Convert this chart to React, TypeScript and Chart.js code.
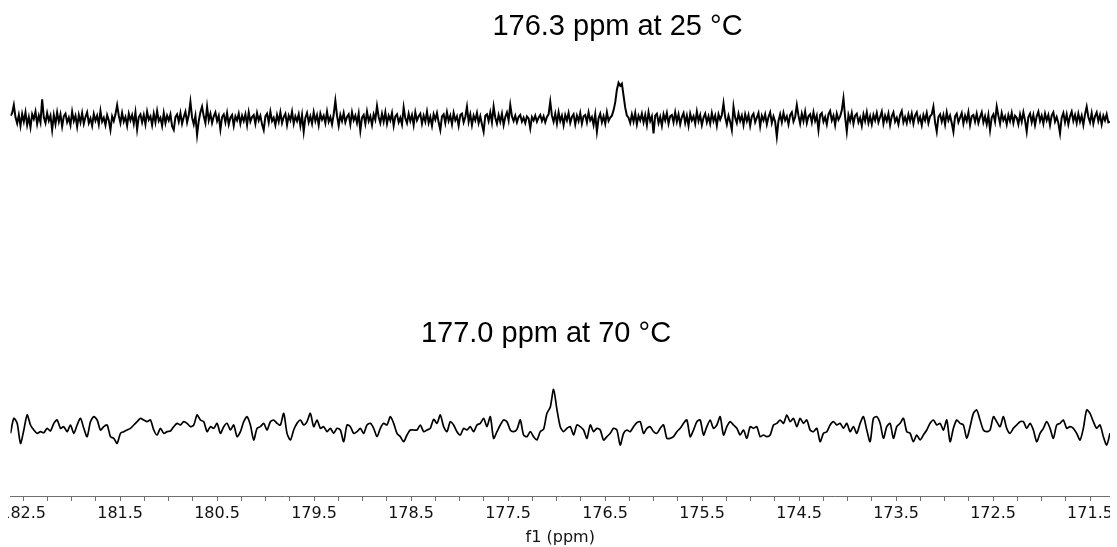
import React, { useEffect, useRef } from 'react';
import { Chart, registerables } from 'chart.js';

Chart.register(...registerables);

// x axis range (ppm), reversed as in NMR
const ppmStart = 182.63;
const ppmEnd = 171.294;

const tickLabels = ['182.5', '181.5', '180.5', '179.5', '178.5', '177.5', '176.5', '175.5', '174.5', '173.5', '172.5', '171.5'];
const axisTitle = 'f1 (ppm)';

const trace25Label = '176.3 ppm at 25 °C';
const trace70Label = '177.0 ppm at 70 °C';

// 13C intensities (arbitrary units) at 25 °C, evenly sampled from ppmStart to ppmEnd
const spectrum25C = [
  10, 18, 42, 5, -13, 12, -20, 15, -8, 20, -18, 6, -25, 14, 0, 22, -15, 10, -10, 59,
  5, -12, 18, -5, 10, -33, 12, -15, 20, -8, 14, -22, 8, 16, -10, 4, -18, 22, -6, 10,
  -23, 12, -10, 18, -14, 6, 20, -12, 2, -20, 15, -5, 10, -16, 24, -8, 4, -18, 12, -4,
  -33, 8, -6, 14, 42, 10, -12, 18, -8, 6, -20, 16, -4, 12, -14, 20, -31, 6, 14, -10,
  12, -16, 22, -2, 8, -18, 16, -10, 24, -6, 4, -20, 18, -12, 10, -4, 14, -22, -33, 6,
  14, -8, 18, -14, 6, 22, -10, 12, 52, 4, -16, 10, -48, -6, 20, 37, 8, -12, 37, -4,
  16, -12, 8, 20, -6, 10, -31, 6, 14, -10, 18, -16, 4, 12, -20, 8, -4, 16, -14, 10,
  -6, 14, -18, 20, -8, 6, 12, -14, 18, -4, 10, -16, -33, 8, 16, -10, 22, -6, 4, -18,
  12, -8, 20, -12, 6, 16, -18, 10, -4, 22, -14, 8, -6, 14, -20, 12, -38, 4, 18, -10,
  8, -14, 20, -6, 12, -18, 16, -2, 10, -12, 22, -8, 6, -16, 14, 55, 10, -20, 12, -6,
  18, -10, 6, 14, -16, 20, -4, 10, -12, 16, -35, 4, 12, -14, 22, -6, 8, -18, 14, -2,
  39, 6, -12, 16, -8, 20, -14, 10, -4, 18, -20, 8, 14, -10, 4, -16, 35, 2, -12, 16,
  -6, 12, -18, 20, -4, 8, 16, -14, 10, -8, 22, -12, 6, -20, 14, -2, 18, -10, -33, 8,
  14, -12, 20, -6, 10, -16, 18, -4, 8, -20, 12, 16, -10, 6, 37, -8, 14, -18, 10, -4,
  18, -12, 8, -16, -38, 10, 14, -6, 20, -10, 37, 4, -14, 12, -8, 16, -18, 6, 20, -4,
  42, 8, -6, 10, -10, 6, 12, -8, 4, -12, 8, 2, -28, 6, -4, 10, -8, 4, 12, -6,
  8, -10, 6, 14, 52, 10, -8, 16, -14, 20, -6, 10, -18, 12, -4, 18, -12, 6, 14, -16,
  10, -6, 18, -14, 8, 12, -10, 20, -4, 6, -18, 14, -38, 2, 16, -10, 8, -14, 20, -6,
  4, 10, 26, 50, 88, 109, 100, 106, 70, 34, 10, 4, -12, 14, -8, 18, -16, 10, -4, 16,
  -10, 12, -18, 20, -6, 8, -43, 10, 16, -12, 6, -20, 14, -4, 18, -14, 8, 12, -10, 20,
  -8, 14, -16, 6, 18, -12, 10, -20, 16, -4, 8, -14, 22, -6, 12, -18, 4, 16, -10, 8,
  -14, 18, -6, 10, -20, 14, -2, 12, 47, 6, -16, 10, -8, -33, 37, 4, -12, 16, -6, 10,
  -18, 14, -6, 12, -20, 8, 16, -10, 4, 18, -22, 10, -4, 14, -16, 6, 20, -12, 8, -8,
  -53, -6, 14, -10, 18, -4, 8, -16, 12, 20, -8, 6, 42, 10, -14, 16, -6, 22, -12, 8,
  14, -10, 20, -6, 10, -33, 12, 18, -8, 6, -16, 14, 24, -4, 10, -18, 16, -2, 8, 26,
  62, 6, -38, 12, -6, 18, -14, 10, 16, -10, 4, -20, 14, -6, 20, -12, 8, -16, 12, -4,
  18, -10, 6, 22, -14, 10, -6, 16, -18, 8, 20, -8, 4, -16, 12, 24, -10, 6, -12, 14,
  -6, 16, -14, 10, 20, -8, 6, -18, 12, -4, 18, -12, 8, 14, 37, -10, -38, 6, 14, -8,
  12, -16, 20, -4, 10, -12, -38, 8, 16, -10, 4, 18, -14, 10, -6, 20, -18, 8, 12, -8,
  16, -12, 6, 20, -10, 8, -16, 12, -33, 4, 14, -8, 37, 10, -14, 18, -4, 8, -16, 12,
  -6, 18, -12, 10, 4, -16, 14, -8, 20, -4, -38, 6, 16, -10, 12, -18, 8, 22, -6, 10,
  -14, 16, -4, 12, -18, 10, 20, -8, 6, -12, -43, 4, 18, -10, 14, -16, 8, 22, -6, 12,
  -12, 16, -8, 10, -18, 14, 37, 6, -10, 18, -14, 8, 20, -6, 12, -16, 10, -4, 14, -10,
  -8,
];

// 13C intensities (arbitrary units) at 70 °C, evenly sampled from ppmStart to ppmEnd
const spectrum70C = [
  -16, 29, 14, -46, -6, 39, 9, -6, -16, -11,
  -14, -1, -9, 14, 24, -1, 4, -11, 9, -16,
  9, 29, -1, -26, 19, 34, 24, -6, 4, 9,
  -26, -31, -46, -16, -11, -6, -1, 9, 19, 29,
  24, 19, 24, -6, -21, -1, -16, -11, -9, 4,
  14, 9, 19, 14, 4, 9, 39, 24, 19, -11,
  4, -1, 14, -16, 4, 14, -6, 9, -26, -11,
  19, 34, 9, -36, -1, 4, 14, -6, 19, 24,
  14, 9, 44, -16, -36, -6, 14, 24, 9, 19,
  44, 4, 24, -1, 4, -11, -1, -16, -1, -6,
  -41, 9, 4, -16, -11, -1, -16, 9, 14,
  -1, -26, -1, 14, 9, 34, 14, -16, -26, -41,
  -21, -6, -6, -6, 9, -11, -6, -1, 26, 14,
  39, 4, -11, 19, 9, -11, -21, -1, -6, 4,
  -11, 9, 14, 29, 4, 34, -31, -11, 9, 24,
  19, -6, -11, -4, 24, -21, -26, -11, -26, -36,
  -11, -4, 44, 62, 116, 56, 4, -11, -1, 4,
  -21, 9, 4, -6, -31, 9, -11, -1, -6, -36,
  -26, -16, -1, -6, -51, -16, -6, -11, 4, 16,
  19, -16, -1, 4, -11, -16, -1, 9, -31, -31,
  -26, -11, -1, 14, 24, -26, -6, 19, 24, -21,
  4, 24, -1, 9, 34, -21, 4, 19, 9, -1, -21,
  -6, -31, 4, -1, 4, -26, -21, -26, -21, 9,
  14, 24, 14, 39, 19, 29, 4, 29, 14, 24,
  -6, -11, -1, -41, -16, -11, 9, 19, 9, 14,
  -1, 14, -11, 4, -16, 14, 34, -6, -41, 29,
  34, 14, -31, 4, 14, -31, 4, 14, 29, -11,
  -16, -41, -21, -36, -21, -6, 14, 24, 9, 14,
  -6, 24, -41, -1, 24, 14, 9, -31, 4, 44,
  54, 24, -6, -11, -6, 34, 19, 4, 34, -1,
  -16, -1, 9, 19, 19, -1, 14, -6, -41, -16,
  -1, 19, -1, -31, 9, 14, 24, -1, 4, -1,
  -16, -36, -1, 54, 44, 19, -1, 9, -26, -51, -16,
];

const CANVAS_W = 1102;
const CANVAS_H = 539;
const Y_MAX = 1464;
const OFFSET_25C = 1131;
const OFFSET_70C = 204;

function toPoints(values: number[], offset: number) {
  const step = (ppmStart - ppmEnd) / (values.length - 1);
  return values.map((v, i) => ({ x: ppmStart - i * step, y: offset + v }));
}

const labelPlugin = {
  id: 'traceLabels',
  afterDatasetsDraw(chart: any) {
    const { ctx, scales } = chart;
    const xs = scales.x;
    const ys = scales.y;
    const items = [
      { text: trace25Label, ppm: 176.372, level: 1383 },
      { text: trace70Label, ppm: 177.109, level: 462 },
    ];
    ctx.save();
    ctx.fillStyle = '#000';
    ctx.font = '29px "Liberation Sans", Arial, sans-serif';
    ctx.textAlign = 'center';
    ctx.textBaseline = 'alphabetic';
    for (const it of items) {
      ctx.fillText(it.text, xs.getPixelForValue(it.ppm), ys.getPixelForValue(it.level));
    }
    ctx.restore();
  },
};

export default function App() {
  const ref = useRef<HTMLCanvasElement | null>(null);

  useEffect(() => {
    if (!ref.current) return;
    const chart = new Chart(ref.current, {
      type: 'line',
      data: {
        datasets: [
          {
            label: trace25Label,
            data: toPoints(spectrum25C, OFFSET_25C),
            borderColor: '#000',
            borderWidth: 2,
            pointRadius: 0,
            tension: 0,
            fill: false,
          },
          {
            label: trace70Label,
            data: toPoints(spectrum70C, OFFSET_70C),
            borderColor: '#000',
            borderWidth: 1.7,
            pointRadius: 0,
            tension: 0.25,
            fill: false,
          },
        ],
      },
      options: {
        responsive: false,
        animation: false,
        events: [],
        layout: { autoPadding: false, padding: { left: 2.5, right: 0, top: 0, bottom: 0 } },
        plugins: { legend: { display: false }, tooltip: { enabled: false }, title: { display: false } },
        scales: {
          x: {
            type: 'linear',
            reverse: true,
            min: ppmEnd,
            max: ppmStart,
            afterFit: (scale: any) => {
              scale.height = 51;
              scale.paddingLeft = 0;
              scale.paddingRight = 0;
              scale.paddingTop = 0;
              scale.paddingBottom = 0;
            },
            border: { display: true, color: '#6e6e6e', width: 1 },
            grid: { drawOnChartArea: false, drawTicks: true, tickLength: 5, tickColor: '#6e6e6e', tickWidth: 1 },
            ticks: {
              stepSize: 0.25,
              includeBounds: false,
              autoSkip: false,
              maxRotation: 0,
              minRotation: 0,
              padding: 3,
              color: '#111',
              font: { family: '"DejaVu Sans", Verdana, sans-serif', size: 16 },
              callback: (v: any) => {
                const s = Number(v).toFixed(2);
                const lbl = Number(v).toFixed(1);
                return s.endsWith('.50') && tickLabels.includes(lbl) ? lbl : '';
              },
            },
            title: {
              display: true,
              text: axisTitle,
              color: '#111',
              font: { family: '"DejaVu Sans", Verdana, sans-serif', size: 16 },
              padding: { top: 0, bottom: 0 },
            },
          },
          y: {
            display: false,
            min: 0,
            max: Y_MAX,
          },
        },
      },
      plugins: [labelPlugin],
    });
    return () => chart.destroy();
  }, []);

  return (
    <div style={{ position: 'fixed', left: 8, top: 8, width: CANVAS_W, height: CANVAS_H }}>
      <canvas ref={ref} width={CANVAS_W} height={CANVAS_H} style={{ display: 'block', width: CANVAS_W, height: CANVAS_H }} />
    </div>
  );
}
